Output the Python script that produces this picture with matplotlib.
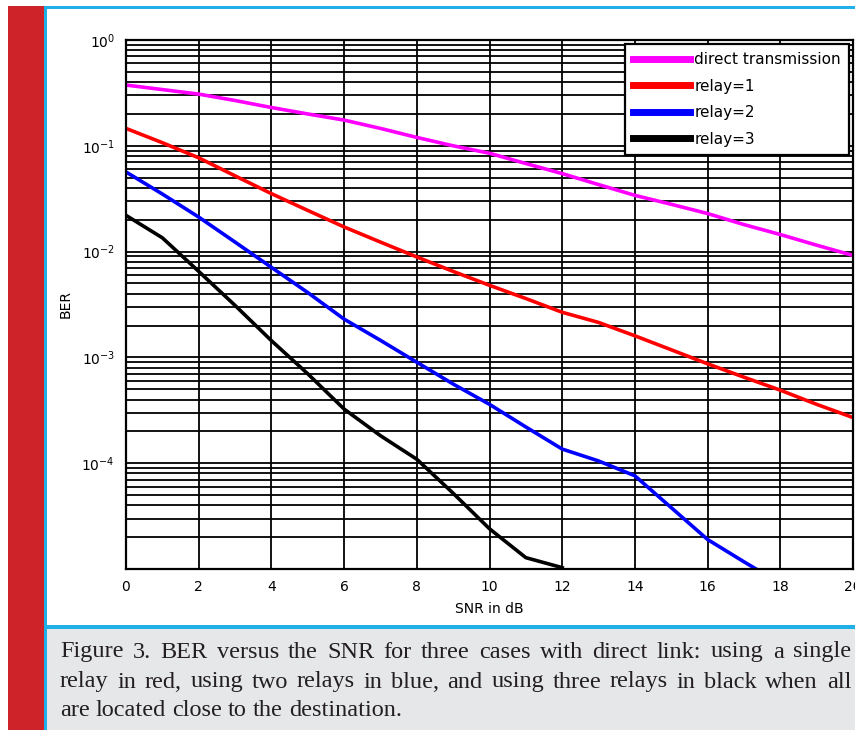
import matplotlib
matplotlib.use("Agg")
import matplotlib.pyplot as plt
from matplotlib.patches import Rectangle

# --- data (BER vs SNR) ---
snr = list(range(0, 21))
ber_direct = [0.375, 0.34, 0.308, 0.268, 0.23, 0.2, 0.175, 0.146, 0.12, 0.1, 0.085,
              0.068, 0.0546, 0.043, 0.034, 0.028, 0.0229, 0.018, 0.0145, 0.0115, 0.0092]
ber_relay1 = [0.146, 0.107, 0.077, 0.052, 0.0353, 0.0245, 0.0171, 0.0123, 0.0089, 0.0065, 0.0048,
              0.0036, 0.00267, 0.00214, 0.0016, 0.00118, 0.00087, 0.00065, 0.00049, 0.00036, 0.00027]
snr_relay2 = list(range(0, 19))
ber_relay2 = [0.0566, 0.035, 0.0212, 0.0123, 0.0071, 0.0041, 0.0023, 0.00145, 0.0009, 0.00056,
              0.00036, 0.00022, 0.000136, 0.000105, 0.000076, 0.000038, 0.000019, 0.0000117, 0.0000073]
snr_relay3 = list(range(0, 13))
ber_relay3 = [0.022, 0.0135, 0.0065, 0.0031, 0.00144, 0.0007, 0.000325, 0.000182, 0.000109,
              0.000052, 0.000024, 0.0000128, 0.0000103]

labels = ["direct transmission", "relay=1", "relay=2", "relay=3"]
colors = ["#ff00ff", "#ff0000", "#0000ff", "#000000"]
xticks = list(range(0, 21, 2))

caption = [
    "Figure 3. BER versus the SNR for three cases with direct link: using a single",
    "relay in red, using two relays in blue, and using three relays in black when all",
    "are located close to the destination.",
]

W, H = 855, 730
fig = plt.figure(figsize=(W / 100, H / 100), dpi=100)
fig.patch.set_facecolor("white")


def px_rect(x0, y0, x1, y1, color):
    # rectangle in pixel coords measured from the top-left corner
    fig.add_artist(Rectangle((x0 / W, 1 - y1 / H), (x1 - x0) / W, (y1 - y0) / H,
                             transform=fig.transFigure, facecolor=color,
                             edgecolor="none", zorder=0))


# page decoration around the chart
px_rect(47, 629, 855, 730, "#e6e7e9")
px_rect(8, 6, 44, 730, "#cf232a")
px_rect(44, 6, 47, 730, "#1fb0e8")
px_rect(44, 6, 855, 9, "#1fb0e8")
px_rect(47, 625, 855, 629, "#1fb0e8")

# --- chart ---
ax = fig.add_axes([126 / W, 1 - 569 / H, 727 / W, 529 / H])
ax.plot(snr, ber_direct, color=colors[0], lw=2.6, label=labels[0])
ax.plot(snr, ber_relay1, color=colors[1], lw=2.6, label=labels[1])
ax.plot(snr_relay2, ber_relay2, color=colors[2], lw=2.6, label=labels[2])
ax.plot(snr_relay3, ber_relay3, color=colors[3], lw=2.6, label=labels[3])

ax.set_yscale("log")
ax.set_xlim(0, 20)
ax.set_ylim(1e-5, 1e0)
ax.set_xticks(xticks)
ax.set_yticks([1e-5, 1e-4, 1e-3, 1e-2, 1e-1, 1e0])
ax.set_yticklabels(["", r"$10^{-4}$", r"$10^{-3}$", r"$10^{-2}$", r"$10^{-1}$", r"$10^{0}$"])
ax.grid(True, which="both", color="black", lw=1.3, ls="-")
ax.tick_params(which="both", length=0, labelsize=10, colors="black")
ax.tick_params(axis="y", pad=8)
ax.tick_params(axis="x", pad=8)
for s in ax.spines.values():
    s.set_linewidth(1.6)
ax.set_xlabel("SNR in dB", fontsize=10, labelpad=6)
ax.set_ylabel("BER", fontsize=10, labelpad=6)

leg = ax.legend(loc="upper right", fontsize=11, handlelength=3.7, handletextpad=0.3,
                labelspacing=0.75, borderaxespad=0.25, borderpad=0.55,
                fancybox=False, framealpha=1, edgecolor="black")
leg.get_frame().set_linewidth(1.6)
for h in leg.get_lines():
    h.set_linewidth(5)

# --- justified caption ---
fs = 17.5
r = fig.canvas.get_renderer()
space = 0.25 * fs * 100 / 72
x_left, x_right = 60, 851
line_y = [652, 682, 711]
for i, line in enumerate(caption):
    words = line.split(" ")
    ts = [fig.text(0, 0, w, fontsize=fs, family="Liberation Serif", color="#231f20",
                   va="center", ha="left") for w in words]
    widths = [t.get_window_extent(r).width for t in ts]
    if i < len(caption) - 1:
        gap = (x_right - x_left - sum(widths)) / (len(words) - 1)
    else:
        gap = space
    x = x_left
    for t, w in zip(ts, widths):
        t.set_position((x / W, 1 - line_y[i] / H))
        x += w + gap

fig.savefig("out.png", dpi=100)
